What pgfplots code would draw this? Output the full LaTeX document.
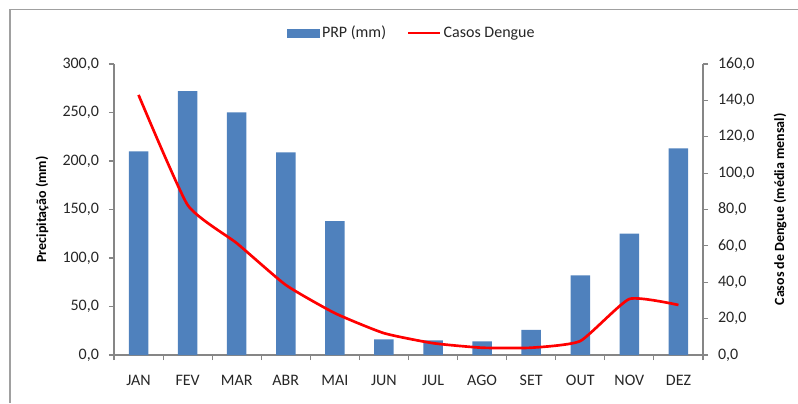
\documentclass[border=0pt]{standalone}
\usepackage{pgfplots}
\usepackage{pgfplotstable}
\pgfplotsset{compat=1.18}
\usepackage{fontspec}
\setmainfont{Carlito}

\definecolor{barblue}{HTML}{4F81BD}
\definecolor{axisgray}{HTML}{868686}
\definecolor{framegray}{HTML}{A0A0A0}
\definecolor{linered}{HTML}{FF0000}

% month, precipitation (mm), dengue cases (monthly mean)
\pgfplotstableread{
x  prp  casos
1  210  143
2  272  82.5
3  250  61.5
4  209  38.5
5  138  23
6  16   12
7  15   6.5
8  14   4
9  26   4
10 82   7.7
11 125  30.8
12 213  27.5
}\datatable

\pgfplotsset{
  mybase/.style={
    scale only axis, width=441.75pt, height=218.25pt,
    at={(85.5pt,36pt)}, anchor=south west,
    xmin=0.5, xmax=12.5,
    axis line style={axisgray, line width=0.8pt},
    tick style={axisgray, line width=0.8pt},
    tick align=outside,
    major tick length=3.75pt,
    minor tick length=3.75pt,
    ticklabel style={font=\fontsize{12}{14}\selectfont, text=black!85},
    /pgf/number format/.cd, fixed, fixed zerofill, precision=1, use comma, assume math mode=true,
  },
}

\begin{document}
\begin{tikzpicture}
\useasboundingbox (0,0) rectangle (598.5pt,302.25pt);
\draw[framegray, line width=1.1pt] (7.5pt,0pt) -- (7.5pt,295.1pt) -- (598.5pt,295.1pt);

% precipitation bars, left axis
\begin{axis}[mybase,
    ybar, bar width=14.6pt,
    ymin=0, ymax=300, ytick={0,50,...,300},
    axis y line*=left, axis x line*=bottom,
    xtick={1,...,12},
    xticklabels={JAN,FEV,MAR,ABR,MAI,JUN,JUL,AGO,SET,OUT,NOV,DEZ},
    minor xtick={0.5,1.5,...,12.5},
    major x tick style={draw=none},
    xticklabel style={yshift=-8pt},
    yticklabel style={xshift=-4pt},
    every axis y label/.style={at={(rel axis cs:-0.122,0.5)}, rotate=90, anchor=center},
    ylabel={Precipitação (mm)},
    ylabel style={font=\bfseries\fontsize{10.5}{12}\selectfont},
]
\addplot[fill=barblue, draw=none] table[x=x, y=prp] {\datatable};
\end{axis}

% dengue cases line, right axis
\begin{axis}[mybase,
    ymin=0, ymax=160, ytick={0,20,...,160},
    axis y line*=right, axis x line=none,
    yticklabel style={xshift=4pt},
    every axis y label/.style={at={(rel axis cs:1.131,0.5)}, rotate=90, anchor=center},
    ylabel={Casos de Dengue (média mensal)},
    ylabel style={font=\bfseries\fontsize{10.5}{12}\selectfont},
    legend columns=2,
    legend style={draw=none, fill=none, at={(0.506,1.107)}, anchor=center,
        font=\fontsize{12}{14}\selectfont, text=black!85,
        /tikz/every even column/.append style={column sep=14pt}},
]
\addlegendimage{legend image code/.code={\fill[barblue] (0pt,-3pt) rectangle (24pt,3pt);}}
\addlegendentry{PRP (mm)}
\addplot[linered, line width=2pt, smooth, tension=0.3,
    legend image code/.code={\draw[linered, line width=1.2pt] (0pt,0pt) -- (24pt,0pt);}]
    table[x=x, y=casos] {\datatable};
\addlegendentry{Casos Dengue}
\end{axis}
\end{tikzpicture}
\end{document}
